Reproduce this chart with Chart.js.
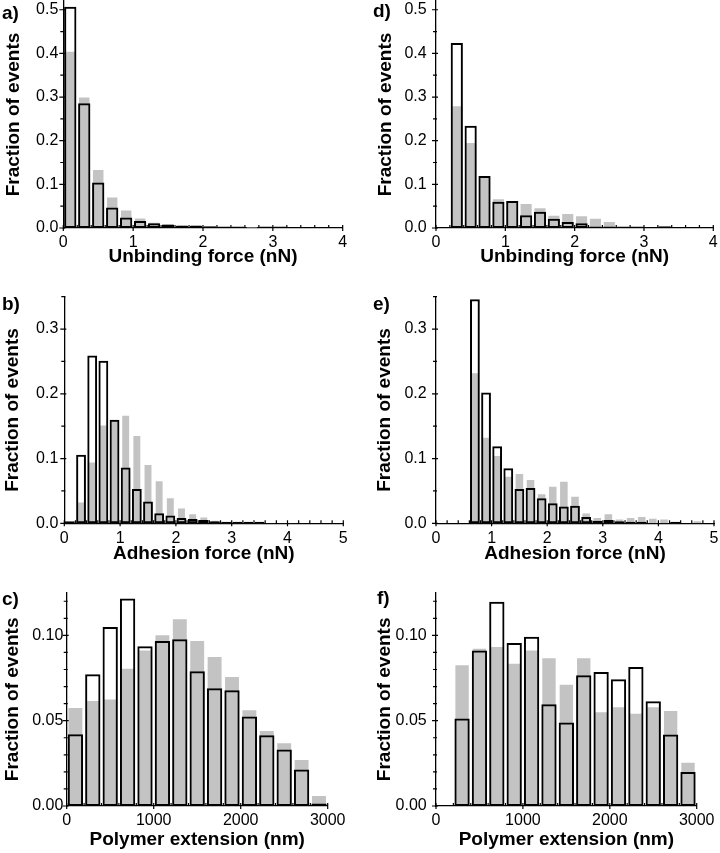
<!DOCTYPE html>
<html>
<head>
<meta charset="utf-8">
<script src="https://cdn.jsdelivr.net/npm/chart.js@4.4.0/dist/chart.umd.min.js"></script>
<style>
  body { margin: 0; width: 720px; height: 853px; position: relative; background: #fff; overflow: hidden; }
  .panel { position: absolute; }
  .tag { position: absolute; font: bold 19px/19px "Liberation Sans", Arial, sans-serif; color: #000; }
</style>
</head>
<body>
<div class="panel" style="left:0px;top:0px;width:360px;height:275px"><canvas id="chartA"></canvas></div>
<div class="panel" style="left:0px;top:275px;width:360px;height:290px"><canvas id="chartB"></canvas></div>
<div class="panel" style="left:0px;top:565px;width:360px;height:288px"><canvas id="chartC"></canvas></div>
<div class="panel" style="left:360px;top:0px;width:360px;height:275px"><canvas id="chartD"></canvas></div>
<div class="panel" style="left:360px;top:275px;width:360px;height:290px"><canvas id="chartE"></canvas></div>
<div class="panel" style="left:360px;top:565px;width:360px;height:288px"><canvas id="chartF"></canvas></div>

<div class="tag" style="left:2px;top:3px">a)</div>
<div class="tag" style="left:2px;top:294px">b)</div>
<div class="tag" style="left:2px;top:589px">c)</div>
<div class="tag" style="left:373px;top:1px">d)</div>
<div class="tag" style="left:373px;top:294px">e)</div>
<div class="tag" style="left:377px;top:588px">f)</div>

<script>
// bin centres and fractions (open = black outlined bars, gray = filled bars)
const binsA = [0.1, 0.3, 0.5, 0.7, 0.9, 1.1, 1.3, 1.5, 1.7, 1.9, 2.1, 2.3, 2.5, 2.7, 2.9, 3.1];
const openA = [0.507, 0.286, 0.104, 0.047, 0.024, 0.016, 0.011, 0.008, 0.005, 0.005, 0.004, 0.0015, 0.0015, null, 0.0015, 0.001];
const grayA = [0.404, 0.299, 0.133, 0.070, 0.040, 0.022, 0.012, 0.008, 0.007, 0.007, 0.003, 0.002, 0.001, 0.001, 0.001, 0.001];

const binsD = [0.3, 0.5, 0.7, 0.9, 1.1, 1.3, 1.5, 1.7, 1.9, 2.1, 2.3, 2.5, 2.7, 2.9, 3.1, 3.3];
const openD = [0.424, 0.234, 0.119, 0.060, 0.062, 0.029, 0.037, 0.021, 0.014, 0.011, 0.003, 0.003, 0.002, 0.001, null, 0.004];
const grayD = [0.279, 0.195, 0.115, 0.066, 0.058, 0.055, 0.045, 0.028, 0.032, 0.027, 0.021, 0.014, 0.002, 0.001, null, null];

const binsB = [0.1, 0.3, 0.5, 0.7, 0.9, 1.1, 1.3, 1.5, 1.7, 1.9, 2.1, 2.3, 2.5, 2.7, 2.9, 3.1, 3.3, 3.5, 3.7, 3.9, 4.1];
const openB = [0.003, 0.106, 0.259, 0.251, 0.160, 0.086, 0.053, 0.0335, 0.0155, 0.012, 0.008, 0.0065, 0.005, 0.003, 0.0015, 0.001, 0.001, 0.001, null, null, null];
const grayB = [null, 0.032, 0.094, 0.151, 0.158, 0.166, 0.135, 0.090, 0.065, 0.0385, 0.023, 0.014, 0.009, 0.004, 0.002, 0.001, 0.001, 0.0005, 0.0005, 0.0005, 0.0005];

const binsE = [0.7, 0.9, 1.1, 1.3, 1.5, 1.7, 1.9, 2.1, 2.3, 2.5, 2.7, 2.9, 3.1, 3.3, 3.5, 3.7, 3.9, 4.1, 4.3, 4.5, 4.7];
const openE = [0.346, 0.202, 0.119, 0.085, 0.053, 0.0545, 0.0386, 0.031, 0.026, 0.027, 0.0098, 0.004, 0.005, 0.003, 0.002, 0.002, null, null, 0.002, null, null];
const grayE = [0.2316, 0.132, 0.104, 0.072, 0.076, 0.067, 0.045, 0.0566, 0.064, 0.041, 0.015, 0.008, 0.014, 0.006, 0.008, 0.0098, 0.007, 0.006, 0.001, null, 0.003];

const binsC = [100, 300, 500, 700, 900, 1100, 1300, 1500, 1700, 1900, 2100, 2300, 2500, 2700, 2900];
const openC = [0.0421, 0.0772, 0.1049, 0.1216, 0.0936, 0.0967, 0.0977, 0.079, 0.069, 0.0678, 0.0524, 0.0415, 0.0331, 0.0214, 0.0014];
const grayC = [0.0575, 0.0616, 0.0624, 0.0805, 0.0912, 0.100, 0.1094, 0.0967, 0.0873, 0.0756, 0.0561, 0.0439, 0.0368, 0.0269, 0.0058];

const binsF = [300, 500, 700, 900, 1100, 1300, 1500, 1700, 1900, 2100, 2300, 2500, 2700, 2900];
const openF = [0.0513, 0.0912, 0.1197, 0.0955, 0.0992, 0.0596, 0.0489, 0.0766, 0.0786, 0.0743, 0.0815, 0.0614, 0.0419, 0.0199];
const grayF = [0.0825, 0.0922, 0.0932, 0.0834, 0.0912, 0.0866, 0.0711, 0.0866, 0.055, 0.0579, 0.054, 0.0579, 0.0557, 0.0253];

// tick labels
const forceTicks = [0, 1, 2, 3, 4];
const adhesionTicks = [0, 1, 2, 3, 4, 5];
const extensionTicks = [0, 1000, 2000, 3000];
const yTicksUnbind = [0, 0.1, 0.2, 0.3, 0.4, 0.5];
const yTicksAdhesion = [0, 0.1, 0.2, 0.3];
const yTicksExtension = [0, 0.05, 0.10];

const FONT = '"Liberation Sans", Arial, sans-serif';

// small in/out tick marks, major and minor, placed through the chart scales
const axisTicks = {
  id: "axisTicks",
  afterDraw(chart, args, opts) {
    const ctx = chart.ctx;
    const xs = chart.scales.x;
    const ys = chart.scales.y;
    const axisY = chart.chartArea.bottom;
    const axisX = chart.chartArea.left;
    ctx.save();
    ctx.strokeStyle = "#000";
    ctx.lineWidth = 1.2;
    ctx.beginPath();
    let n = Math.round((xs.max - xs.min) / opts.xMinor);
    for (let i = 0; i <= n; i++) {
      const v = xs.min + i * opts.xMinor;
      const px = xs.getPixelForValue(v);
      const major = xs.ticks.some((t) => Math.abs(t.value - v) < 1e-6);
      ctx.moveTo(px, axisY - 3);
      ctx.lineTo(px, axisY + (major ? 3 : 0));
    }
    n = Math.floor(ys.max / opts.yMinor + 1e-6);
    for (let i = 0; i <= n; i++) {
      const v = i * opts.yMinor;
      const py = ys.getPixelForValue(v);
      const major = ys.ticks.some((t) => Math.abs(t.value - v) < 1e-6);
      ctx.moveTo(axisX - (major ? 4 : 3), py);
      ctx.lineTo(axisX + (major ? 2 : 1), py);
    }
    ctx.stroke();
    ctx.restore();
  },
};

const panels = [
  { id: "chartA", bins: binsA, open: openA, gray: grayA, xMax: 4, xTicks: forceTicks, xMinor: 0.2,
    yMax: 0.52, yTicks: yTicksUnbind, yMinor: 0.05, digits: 1, xTitle: "Unbinding force (nN)",
    box: { l: 0, t: 0, w: 360, h: 275 }, plot: { l: 63.3, t: 1, r: 342.7, b: 228 },
    yTitleX: 13.3, yGap: 5, xTitleY: 257, grayPct: 0.75 },
  { id: "chartB", bins: binsB, open: openB, gray: grayB, xMax: 5, xTicks: adhesionTicks, xMinor: 0.2,
    yMax: 0.35, yTicks: yTicksAdhesion, yMinor: 0.05, digits: 1, xTitle: "Adhesion force (nN)",
    box: { l: 0, t: 275, w: 360, h: 290 }, plot: { l: 64.3, t: 296.7, r: 343.3, b: 523.3 },
    yTitleX: 13, yGap: 6, xTitleY: 554, grayPct: 0.62 },
  { id: "chartC", bins: binsC, open: openC, gray: grayC, xMax: 3000, xTicks: extensionTicks, xMinor: 200,
    yMax: 0.125, yTicks: yTicksExtension, yMinor: 0.01, digits: 2, xTitle: "Polymer extension (nm)",
    box: { l: 0, t: 565, w: 360, h: 288 }, plot: { l: 66.7, t: 592.7, r: 327.7, b: 806 },
    yTitleX: 12.5, yGap: 3.4, xTitleY: 840, grayPct: 0.8 },
  { id: "chartD", bins: binsD, open: openD, gray: grayD, xMax: 4, xTicks: forceTicks, xMinor: 0.2,
    yMax: 0.52, yTicks: yTicksUnbind, yMinor: 0.05, digits: 1, xTitle: "Unbinding force (nN)",
    box: { l: 360, t: 0, w: 360, h: 275 }, plot: { l: 436, t: 1, r: 713.3, b: 228 },
    yTitleX: 385.5, yGap: 9.3, xTitleY: 257, grayPct: 0.8 },
  { id: "chartE", bins: binsE, open: openE, gray: grayE, xMax: 5, xTicks: adhesionTicks, xMinor: 0.2,
    yMax: 0.35, yTicks: yTicksAdhesion, yMinor: 0.05, digits: 1, xTitle: "Adhesion force (nN)",
    box: { l: 360, t: 275, w: 360, h: 290 }, plot: { l: 436, t: 296.7, r: 714, b: 523.3 },
    yTitleX: 385, yGap: 9.3, xTitleY: 554, grayPct: 0.68 },
  { id: "chartF", bins: binsF, open: openF, gray: grayF, xMax: 3000, xTicks: extensionTicks, xMinor: 200,
    yMax: 0.125, yTicks: yTicksExtension, yMinor: 0.01, digits: 2, xTitle: "Polymer extension (nm)",
    box: { l: 360, t: 565, w: 360, h: 288 }, plot: { l: 436, t: 592.7, r: 696.7, b: 806 },
    yTitleX: 385, yGap: 9.3, xTitleY: 840, grayPct: 0.77 },
];

function makePanel(p) {
  const box = p.box;
  const plot = p.plot;
  const canvas = document.getElementById(p.id);

  return new Chart(canvas, {
    type: "bar",
    data: {
      datasets: [
        {
          // first dataset is drawn on top
          data: p.bins.map((x, i) => ({ x: x, y: p.open[i] })),
          backgroundColor: "rgba(0,0,0,0)",
          borderColor: "#000",
          borderWidth: 2,
          borderSkipped: false,
          barPercentage: 0.88,
          categoryPercentage: 1,
          grouped: false,
          minBarLength: 1.5,
        },
        {
          data: p.bins.map((x, i) => ({ x: x, y: p.gray[i] })),
          backgroundColor: "#c3c3c3",
          borderWidth: 0,
          barPercentage: p.grayPct,
          categoryPercentage: 1,
          grouped: false,
        },
      ],
    },
    options: {
      responsive: true,
      maintainAspectRatio: false,
      animation: false,
      layout: {
        padding: { left: 0, top: plot.t - box.t, right: box.l + box.w - plot.r, bottom: 0 },
      },
      plugins: {
        legend: { display: false },
        tooltip: { enabled: false },
        axisTicks: { xMinor: p.xMinor, yMinor: p.yMinor },
      },
      scales: {
        x: {
          type: "linear",
          min: 0,
          max: p.xMax,
          offset: false,
          grid: { display: false, drawTicks: false, offset: false },
          border: { display: true, color: "#000", width: 1.3 },
          ticks: {
            padding: 7,
            color: "#000",
            maxRotation: 0,
            autoSkip: false,
            font: { family: FONT, size: 16, lineHeight: 1 },
            callback: (v) => String(v),
          },
          afterBuildTicks: (s) => {
            s.ticks = p.xTicks.map((v) => ({ value: v }));
          },
          afterFit: (s) => {
            s.height = box.t + box.h - plot.b;
            s.paddingLeft = 0;
            s.paddingRight = 0;
          },
          title: {
            display: true,
            text: p.xTitle,
            color: "#000",
            font: { family: FONT, size: 19, weight: "bold", lineHeight: 1 },
            padding: { top: 0, bottom: box.t + box.h - 9.5 - p.xTitleY },
          },
        },
        y: {
          min: 0,
          max: p.yMax,
          grid: { display: false, drawTicks: false },
          border: { display: true, color: "#000", width: 1.3 },
          ticks: {
            padding: p.yGap,
            color: "#000",
            font: { family: FONT, size: 16, lineHeight: 1 },
            callback: (v) => Number(v).toFixed(p.digits),
          },
          afterBuildTicks: (s) => {
            s.ticks = p.yTicks.map((v) => ({ value: v }));
          },
          afterFit: (s) => {
            s.width = plot.l - box.l;
            s.paddingTop = 0;
            s.paddingBottom = 0;
          },
          title: {
            display: true,
            text: "Fraction of events",
            color: "#000",
            font: { family: FONT, size: 19, weight: "bold", lineHeight: 1 },
            padding: { top: p.yTitleX - box.l - 9.5, bottom: 0 },
          },
        },
      },
    },
    plugins: [axisTicks],
  });
}

panels.forEach((p) => makePanel(p));
</script>
</body>
</html>
